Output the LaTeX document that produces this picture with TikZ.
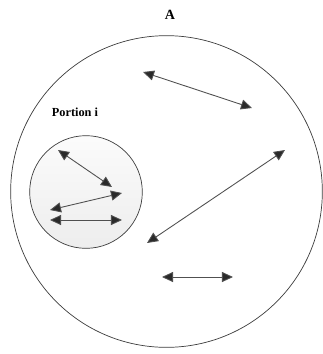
\documentclass[tikz,border=0pt]{standalone}
\usepackage{fontspec}
\setmainfont{Liberation Serif}
\usepackage{tikz}
\usetikzlibrary{arrows.meta,positioning}
\definecolor{Linea}{HTML}{505050}
\definecolor{Punta}{HTML}{2A2A2A}
\definecolor{Borde}{HTML}{3C3C3C}

\begin{document}
\begin{tikzpicture}[
  x=0.03cm,y=-0.03cm,
  font=\bfseries,
  zona/.style={draw=Borde,circle,line width=0.6pt,inner sep=0pt},
  flecha/.style={{Triangle[length=3.3mm,width=3mm,fill=Punta]}-{Triangle[length=3.3mm,width=3mm,fill=Punta]},
                 draw=Linea,line width=0.75pt}
]
  \useasboundingbox (0,0) rectangle (322,354);
  % regiones
  \node[zona,minimum size=9.35cm] (total) at (166.5,191.5) {};
  \node[zona,minimum size=3.38cm,top color=gray!3,bottom color=gray!14] (porcion) at (86,192) {};
  \node[font=\fontsize{12}{14}\selectfont\bfseries] (etqA) at (170,15) {A};
  \node[font=\fontsize{10.5}{12}\selectfont\bfseries] (etqP) at (75,112) {Portion i};

  % extremos de las flechas
  \coordinate (a1) at (143,72);   \coordinate (b1) at (252,108);
  \coordinate (a2) at (285,150);  \coordinate (b2) at (147,243);
  \coordinate (a3) at (162,277);  \coordinate (b3) at (233,277);
  \coordinate (a4) at (58,150);   \coordinate (b4) at (112,187);
  \coordinate (a5) at (122,193);  \coordinate (b5) at (50,210);
  \coordinate (a6) at (50,220);   \coordinate (b6) at (122,220);

  \foreach \i in {1,...,6}
    \draw[flecha] (a\i) -- (b\i);
\end{tikzpicture}
\end{document}
